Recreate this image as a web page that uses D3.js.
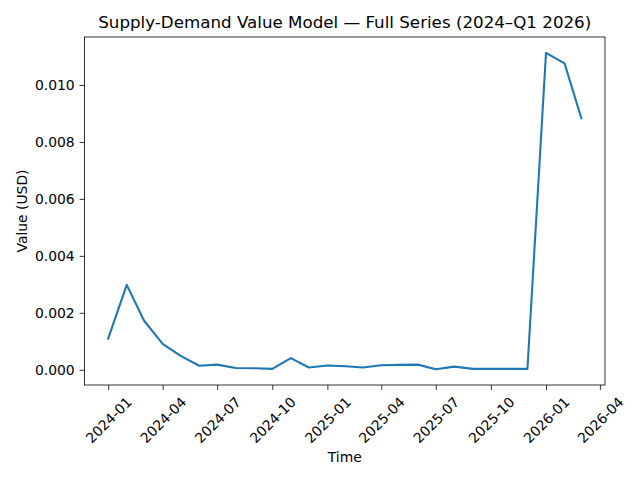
<!DOCTYPE html>
<html>
<head>
<meta charset="utf-8">
<script src="https://cdn.jsdelivr.net/npm/d3@7"></script>
<style>
body { margin: 0; background: #fff; }
text { font-family: "DejaVu Sans", sans-serif; fill: #000; }
</style>
</head>
<body>
<div class="chart"></div>
<script>
const months = ["2024-01","2024-02","2024-03","2024-04","2024-05","2024-06","2024-07","2024-08","2024-09","2024-10","2024-11","2024-12",
    "2025-01","2025-02","2025-03","2025-04","2025-05","2025-06","2025-07","2025-08","2025-09","2025-10","2025-11","2025-12",
    "2026-01","2026-02","2026-03"];
const values = [0.00109,0.00298,0.00172,0.00091,0.00049,0.00014,0.00018,0.00006,0.00005,0.00003,0.00041,0.00008,
    0.00015,0.00012,0.00008,0.00016,0.00017,0.00018,0.00002,0.00011,0.00003,0.00003,0.00003,0.00003,
    0.01113,0.01076,0.00883];
const xTickLabels = ["2024-01","2024-04","2024-07","2024-10","2025-01","2025-04","2025-07","2025-10","2026-01","2026-04"];
const yTicks = [0,0.002,0.004,0.006,0.008,0.010];

const parse = d3.timeParse("%Y-%m");
const data = months.map((m,i)=>({date: parse(m), value: values[i]}));

drawChart(data);

function drawChart(data) {
    const width = 640;
    const height = 480;
    const left = 84.5, right = 605, top = 37, bottom = 385;

    const svg = d3.select('.chart')
        .append('svg')
        .attr('width', width)
        .attr('height', height);

    // matplotlib style 5% margins
    const xExt = d3.extent(data, d=>d.date);
    const xPad = (xExt[1]-xExt[0])*0.05;
    const x = d3.scaleTime()
        .domain([new Date(+xExt[0]-xPad), new Date(+xExt[1]+xPad)])
        .range([left, right]);
    const yExt = d3.extent(data, d=>d.value);
    const yPad = (yExt[1]-yExt[0])*0.05;
    const y = d3.scaleLinear()
        .domain([yExt[0]-yPad, yExt[1]+yPad])
        .range([bottom, top]);

    const xAxis = svg.append('g')
        .attr('transform', `translate(0,${bottom})`)
        .call(d3.axisBottom(x)
            .tickValues(xTickLabels.map(parse))
            .tickSize(4.9)
            .tickFormat(d3.timeFormat("%Y-%m")));
    xAxis.select('.domain').remove();
    xAxis.selectAll('line').attr('stroke','#000').attr('stroke-width',0.8);
    xAxis.selectAll('text')
        .attr('font-size', 13.9)
        .attr('text-anchor','middle')
        .attr('dominant-baseline','central')
        .attr('y', 0).attr('dy', null)
        .attr('transform', 'translate(0,35) rotate(-45)');

    const yAxis = svg.append('g')
        .attr('transform', `translate(${left},0)`)
        .call(d3.axisLeft(y)
            .tickValues(yTicks)
            .tickSize(4.9)
            .tickPadding(4.9)
            .tickFormat(d3.format(".3f")));
    yAxis.select('.domain').remove();
    yAxis.selectAll('line').attr('stroke','#000').attr('stroke-width',0.8);
    yAxis.selectAll('text').attr('font-size', 13.9);

    const line = d3.line()
        .x(d=>x(d.date))
        .y(d=>y(d.value));

    svg.append('path')
        .datum(data)
        .attr('fill','none')
        .attr('stroke','#1f77b4')
        .attr('stroke-width',2.08)
        .attr('stroke-linejoin','round')
        .attr('stroke-linecap','square')
        .attr('d', line);

    svg.append('rect')
        .attr('x', left).attr('y', top)
        .attr('width', right-left).attr('height', bottom-top)
        .attr('fill','none')
        .attr('stroke','#000')
        .attr('stroke-width',0.8);

    svg.append('text')
        .attr('x', (left+right)/2)
        .attr('y', 28)
        .attr('text-anchor','middle')
        .attr('font-size', 16.7)
        .text('Supply-Demand Value Model — Full Series (2024–Q1 2026)');

    svg.append('text')
        .attr('x', (left+right)/2)
        .attr('y', 462)
        .attr('text-anchor','middle')
        .attr('font-size', 13.9)
        .text('Time');

    svg.append('text')
        .attr('transform', `translate(27,${(top+bottom)/2}) rotate(-90)`)
        .attr('text-anchor','middle')
        .attr('font-size', 13.9)
        .text('Value (USD)');
}
</script>
</body>
</html>
